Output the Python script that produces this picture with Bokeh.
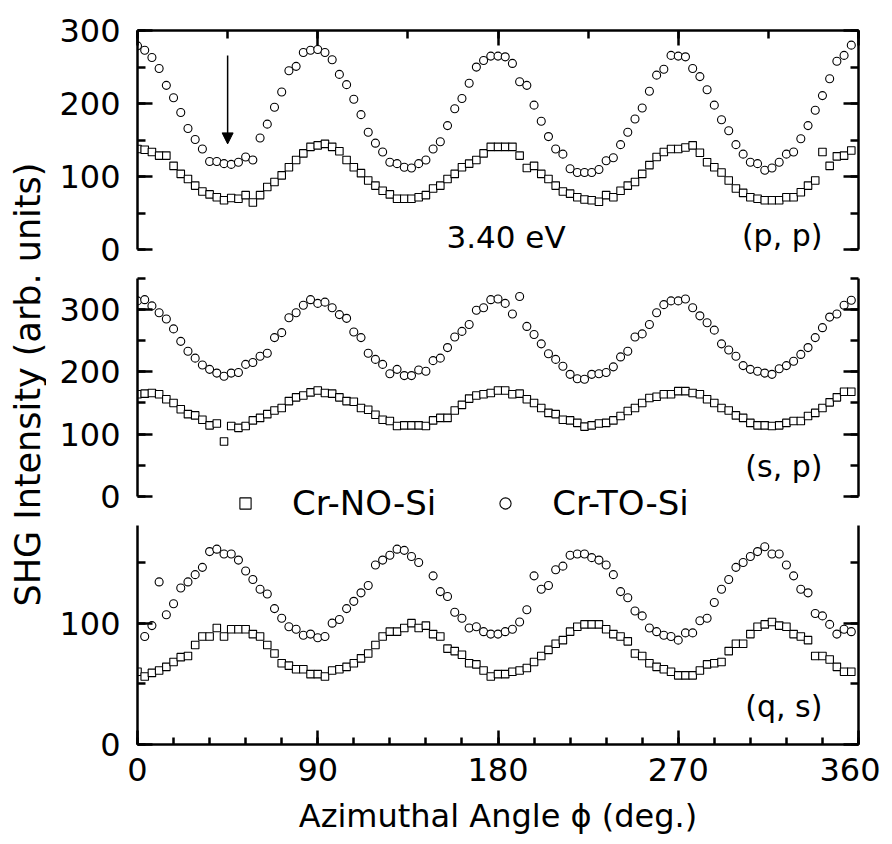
import numpy as np
from bokeh.plotting import figure
from bokeh.layouts import column, row
from bokeh.models import (Range1d, LinearAxis, SingleIntervalTicker, Label, Arrow,
                          NormalHead, Legend, LegendItem, CustomJSTickFormatter)
from bokeh.embed import file_html
from bokeh.resources import INLINE

nan = np.nan

# azimuthal angle (deg.)
angle = [0.0, 3.6, 7.2, 10.8, 14.4, 18.0, 21.6, 25.2, 28.8, 32.4,
         36.0, 39.6, 43.2, 46.8, 50.4, 54.0, 57.6, 61.2, 64.8, 68.4,
         72.0, 75.6, 79.2, 82.8, 86.4, 90.0, 93.6, 97.2, 100.8, 104.4,
         108.0, 111.6, 115.2, 118.8, 122.4, 126.0, 129.6, 133.2, 136.8, 140.4,
         144.0, 147.6, 151.2, 154.8, 158.4, 162.0, 165.6, 169.2, 172.8, 176.4,
         180.0, 183.6, 187.2, 190.8, 194.4, 198.0, 201.6, 205.2, 208.8, 212.4,
         216.0, 219.6, 223.2, 226.8, 230.4, 234.0, 237.6, 241.2, 244.8, 248.4,
         252.0, 255.6, 259.2, 262.8, 266.4, 270.0, 273.6, 277.2, 280.8, 284.4,
         288.0, 291.6, 295.2, 298.8, 302.4, 306.0, 309.6, 313.2, 316.8, 320.4,
         324.0, 327.6, 331.2, 334.8, 338.4, 342.0, 345.6, 349.2, 352.8, 356.4]

# (p, p) panel
pp_no = [138, 137, 134, 129, 129, 115, 104, 97, 88, 80,
         76, 72, 68, 71, 70, 75, 65, 75, 86, 93,
         102, 113, 123, 132, 141, 143, 145, 141, 135, 123,
         113, 105, 95, 88, 81, 76, 70, 70, 70, 72,
         75, 84, 88, 97, 104, 113, 118, 123, 132, 141,
         141, 141, 141, 129, 112, 115, 104, 97, 88, 80,
         77, 72, 69, 68, 66, 75, 72, 81, 88, 93,
         104, 116, 127, 134, 138, 138, 140, 143, 133, 120,
         113, 106, 95, 84, 78, 72, 70, 68, 68, 68,
         72, 72, 79, 88, 95, 134, 115, 128, 129, 136]
pp_to = [279, 273, 263, 248, 225, 208, 188, 166, 151, 138,
         121, 121, 118, 117, 120, 127, 123, 153, 172, 195,
         216, 245, 251, 270, 273, 274, 270, 260, 240, 226,
         206, 185, 161, 146, 134, 120, 118, 113, 112, 118,
         123, 138, 148, 170, 193, 207, 228, 250, 259, 265,
         265, 264, 255, 230, 225, 198, 176, 155, 138, 131,
         111, 106, 106, 106, 110, 122, 126, 144, 161, 179,
         194, 217, 239, 247, 266, 265, 264, 248, 237, 219,
         198, 178, 163, 144, 131, 120, 118, 109, 112, 120,
         131, 134, 152, 170, 191, 211, 234, 258, 266, 280]

# (s, p) panel
sp_no = [164, 165, 166, 164, 156, 150, 140, 132, 130, 123,
         114, 117, 88, 113, 110, 113, 122, 126, 132, 138,
         142, 153, 159, 162, 167, 170, 166, 165, 159, 153,
         152, 142, 139, 131, 123, 121, 113, 114, 114, 114,
         113, 122, 126, 126, 138, 147, 157, 162, 164, 166,
         170, 170, 164, 165, 156, 150, 142, 134, 132, 123,
         122, 118, 112, 114, 117, 118, 122, 129, 137, 142,
         150, 158, 160, 164, 164, 169, 169, 166, 164, 156,
         150, 142, 138, 130, 126, 118, 114, 114, 113, 114,
         118, 121, 121, 129, 134, 142, 151, 159, 168, 168]
sp_to = [314, 316, 306, 295, 285, 269, 249, 233, 222, 211,
         204, 198, 193, 198, 199, 212, 215, 225, 230, 255,
         263, 287, 295, 307, 316, 310, 312, 303, 292, 286,
         264, 255, 230, 220, 212, 197, 204, 194, 194, 203,
         201, 218, 222, 239, 256, 265, 276, 299, 303, 316,
         317, 310, 293, 321, 273, 260, 245, 229, 220, 209,
         196, 189, 188, 196, 197, 199, 208, 224, 233, 256,
         261, 276, 295, 308, 314, 314, 317, 303, 290, 279,
         267, 245, 235, 225, 210, 204, 201, 198, 196, 205,
         210, 217, 228, 239, 255, 271, 288, 293, 307, 315]

# (q, s) panel
qs_no = [60, 56, 59, 61, 64, 68, 72, 73, 82, 89,
         89, 96, 89, 95, 95, 95, 91, 89, 82, 75,
         67, 65, 62, 62, 58, 58, 56, 61, 62, 64,
         67, 71, 75, 82, 89, 93, 93, 96, 100, 96,
         98, 91, 89, 79, 77, 74, 67, 66, 61, 56,
         58, 58, 60, 61, 63, 68, 73, 78, 83, 86,
         93, 97, 99, 99, 99, 95, 91, 89, 85, 75,
         73, 67, 64, 62, 60, 57, 57, 57, 61, 66,
         67, 68, 77, 83, 83, 91, 97, 99, 101, 98,
         97, 91, 89, 86, 73, 73, 70, 64, 60, 60]
qs_to = [nan, 89, 98, 134, 107, 116, 129, 134, 140, 146,
         159, 161, 157, 157, 152, 143, 136, 128, 124, 112,
         104, 97, 95, 90, 91, 88, 89, 100, 103, 112,
         118, 125, 131, 148, 152, 156, 161, 160, 155, 150,
         nan, 139, 126, 122, 109, 104, 96, 97, 93, 91,
         91, 93, 95, 101, 111, 139, 128, 131, 144, 147,
         156, 157, 157, 154, 152, 148, 140, 126, 121, 110,
         106, 96, 93, 90, 89, 86, 92, 92, 102, 104,
         117, 128, 136, 146, 150, 155, 159, 163, 157, 157,
         148, 139, 128, 125, 108, 106, 99, 91, 95, 93]

series_labels = ["Cr-NO-Si", "Cr-TO-Si"]
panel_labels = ["(p, p)", "(s, p)", "(q, s)"]
y_top = [300, 350, 180.5]      # axis maxima
y_bottom = [-17.1, -45.3, 0]   # frame extends below the axis in panels 1-2
x_title = "Azimuthal Angle \u03d5 (deg.)"
y_title = "SHG Intensity (arb. units)"

FONT = "DejaVu Sans"
TITLE_W = 46
W = 834
LEFT = 91
RIGHT = 22


def make_fig(i, height, top, bottom):
    p = figure(width=W, height=height, x_range=Range1d(0, 360),
               y_range=Range1d(y_bottom[i], y_top[i]), x_axis_location=None,
               y_axis_location=None, toolbar_location=None,
               output_backend="svg", min_border_left=LEFT,
               min_border_right=RIGHT, min_border_top=top,
               min_border_bottom=bottom)
    p.outline_line_color = None
    p.xgrid.grid_line_color = None
    p.ygrid.grid_line_color = None
    p.background_fill_color = "white"
    p.border_fill_color = "white"
    return p


def style(ax, labels=True, size="32px", major=15, minor=8):
    ax.axis_line_width = 2.5
    ax.axis_line_color = "black"
    ax.major_tick_line_width = 2.5
    ax.minor_tick_line_width = 2.5
    ax.major_tick_line_color = "black"
    ax.minor_tick_line_color = "black"
    ax.major_tick_in = major
    ax.major_tick_out = 0
    ax.minor_tick_in = minor
    ax.minor_tick_out = 0
    if labels:
        ax.major_label_text_font = FONT
        ax.major_label_text_font_size = size
        ax.major_label_text_color = "black"
    else:
        ax.formatter = CustomJSTickFormatter(code="return ''")
        ax.major_label_text_font_size = "1px"
        ax.major_label_standoff = 0


def y_axes(p, i):
    for side in ("left", "right"):
        ax = LinearAxis(ticker=SingleIntervalTicker(interval=100, num_minor_ticks=2),
                        bounds=(0, y_top[i]))
        style(ax, labels=(side == "left"))
        if side == "left":
            ax.major_label_standoff = 17
        p.add_layout(ax, side)


def points(p, ys_no, ys_to):
    r1 = p.scatter(angle, np.array(ys_no, dtype=float), marker="square", size=7.5,
                   fill_color="white", line_color="black", line_width=1.1)
    r2 = p.scatter(angle, np.array(ys_to, dtype=float), marker="circle", size=8,
                   fill_color="white", line_color="black", line_width=1.1)
    return r1, r2


def panel_label(p, text, y):
    p.add_layout(Label(x=342, y=y, text=text, text_align="right",
                       text_baseline="middle", text_font=FONT,
                       text_font_size="30px", text_color="black"))


# ---- y-axis title strip
pt = figure(width=TITLE_W, height=842, x_range=Range1d(0, 1), y_range=Range1d(0, 1),
            x_axis_location=None, y_axis_location=None, toolbar_location=None,
            output_backend="svg", min_border=0)
pt.outline_line_color = None
pt.xgrid.grid_line_color = None
pt.ygrid.grid_line_color = None
pt.add_layout(Label(x=27, y=842 - 384, x_units="screen", y_units="screen",
                    text=y_title, angle=np.pi / 2, text_align="center",
                    text_baseline="middle", text_font=FONT,
                    text_font_size="35px", text_color="black"))

# ---- top panel (p, p)
p1 = make_fig(0, 270, 30, 8)
y_axes(p1, 0)
top = LinearAxis(ticker=SingleIntervalTicker(interval=90, num_minor_ticks=2))
style(top, labels=False)
p1.add_layout(top, "above")
points(p1, pp_no, pp_to)
p1.add_layout(Arrow(end=NormalHead(size=11, fill_color="black", line_color="black",
                                   line_width=1),
                    x_start=45, y_start=266, x_end=45, y_end=145,
                    line_width=1.5, line_color="black"))
p1.add_layout(Label(x=184, y=17.8, text="3.40 eV", text_align="center",
                    text_baseline="middle", text_font=FONT,
                    text_font_size="31px", text_color="black"))
panel_label(p1, panel_labels[0], 19.8)

# ---- middle panel (s, p)
p2 = make_fig(1, 254, 8, 0)
y_axes(p2, 1)
r_no, r_to = points(p2, sp_no, sp_to)
panel_label(p2, panel_labels[1], 47.4)
legend = Legend(items=[LegendItem(label=series_labels[0], renderers=[r_no]),
                       LegendItem(label=series_labels[1], renderers=[r_to])],
                location=(94, 1), orientation="horizontal",
                glyph_width=28, glyph_height=40, label_height=40,
                label_standoff=33, spacing=55, padding=0, margin=0,
                border_line_color=None, background_fill_alpha=0,
                label_text_font=FONT, label_text_font_size="34px",
                label_text_color="black")
p2.add_layout(legend, "center")

# ---- bottom panel (q, s)
p3 = make_fig(2, 318, 1, 98)
y_axes(p3, 2)
bottom = LinearAxis(ticker=SingleIntervalTicker(interval=90, num_minor_ticks=5))
style(bottom, size="32px", major=14, minor=7)
bottom.major_label_standoff = 13
bottom.axis_label = x_title
bottom.axis_label_text_font = FONT
bottom.axis_label_text_font_size = "32px"
bottom.axis_label_text_font_style = "normal"
bottom.axis_label_text_color = "black"
bottom.axis_label_standoff = 13
p3.add_layout(bottom, "below")
points(p3, qs_no, qs_to)
panel_label(p3, panel_labels[2], 31.3)

layout = row(pt, column(p1, p2, p3, spacing=0), spacing=0)
open("out.html", "w").write(file_html(layout, INLINE))
